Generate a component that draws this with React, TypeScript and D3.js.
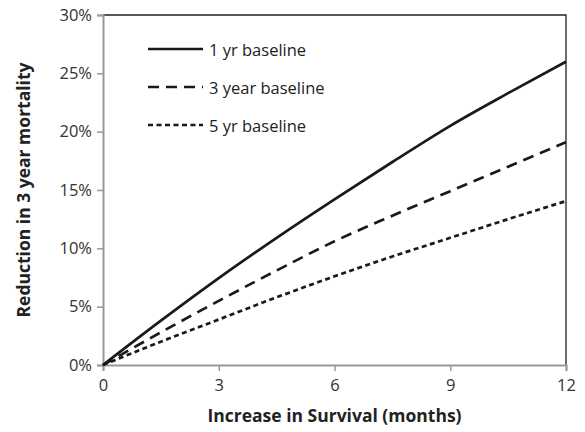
import React, { useEffect, useRef } from 'react';
import * as d3 from 'd3';

const months = [0, 1.5, 3, 4.5, 6, 7.5, 9, 10.5, 12];
const oneYear = [0, 3.8, 7.45, 10.9, 14.2, 17.4, 20.5, 23.3, 26.0];
const threeYear = [0, 2.8, 5.5, 8.1, 10.6, 12.8, 14.9, 17.0, 19.1];
const fiveYear = [0, 2.0, 3.9, 5.8, 7.6, 9.3, 10.9, 12.5, 14.05];
const seriesNames = ['1 yr baseline', '3 year baseline', '5 yr baseline'];
const xTicks = [0, 3, 6, 9, 12];
const yTicks = [0, 5, 10, 15, 20, 25, 30];

export default function App() {
    const ref = useRef<SVGSVGElement>(null);
    const width = 585;
    const height = 432;
    const margin = { left: 103, right: 19, top: 15, bottom: 67 };

    useEffect(() => {
        const svg = d3.select(ref.current);
        svg.selectAll('*').remove();
        const font = "Open Sans, Liberation Sans, sans-serif";

        const x = d3.scaleLinear().domain([0, 12]).range([margin.left, width - margin.right]);
        const y = d3.scaleLinear().domain([0, 30]).range([height - margin.bottom, margin.top]);

        svg.append('rect')
            .attr('width', width).attr('height', height).attr('fill', 'white');

        // frame: top and right dark
        svg.append('path')
            .attr('d', `M${x(0)} ${y(30)} H${x(12)} V${y(0)}`)
            .attr('fill', 'none')
            .attr('stroke', '#222')
            .attr('stroke-width', 1.3);

        const xAxis = svg.append('g')
            .attr('transform', `translate(0,${y(0)})`)
            .call(d3.axisBottom(x).tickValues(xTicks).tickSize(6).tickPadding(8).tickFormat(d3.format('d')));
        const yAxis = svg.append('g')
            .attr('transform', `translate(${x(0)},0)`)
            .call(d3.axisLeft(y).tickValues(yTicks).tickSize(6).tickPadding(5).tickFormat(d => `${d}%`));

        [xAxis, yAxis].forEach(ax => {
            ax.select('.domain').attr('stroke', '#999').attr('stroke-width', 2);
            ax.selectAll('.tick line').attr('stroke', '#999').attr('stroke-width', 1.5);
            ax.selectAll('.tick text')
                .attr('fill', '#333')
                .style('font-family', font)
                .style('font-size', '16.5px');
        });

        const line = d3.line<number>()
            .x((_, i) => x(months[i]))
            .y(d => y(d))
            .curve(d3.curveMonotoneX);

        const dashes = [null, '11,7', '5,3.5'];
        [oneYear, threeYear, fiveYear].forEach((vals, i) => {
            svg.append('path')
                .attr('d', line(vals))
                .attr('fill', 'none')
                .attr('stroke', '#1a1a1a')
                .attr('stroke-width', 2.7)
                .attr('stroke-dasharray', dashes[i]);
        });

        // legend
        const legendY = [49, 87, 125];
        seriesNames.forEach((name, i) => {
            svg.append('line')
                .attr('x1', 148).attr('x2', 203)
                .attr('y1', legendY[i]).attr('y2', legendY[i])
                .attr('stroke', '#1a1a1a')
                .attr('stroke-width', 2.7)
                .attr('stroke-dasharray', dashes[i]);
            svg.append('text')
                .attr('x', 209)
                .attr('y', legendY[i])
                .attr('dominant-baseline', 'central')
                .attr('fill', '#222')
                .style('font-family', font)
                .style('font-size', '16.5px')
                .text(name);
        });

        svg.append('text')
            .attr('x', (x(0) + x(12)) / 2)
            .attr('y', 422)
            .attr('text-anchor', 'middle')
            .attr('fill', '#222')
            .style('font-family', font)
            .style('font-size', '17.5px')
            .style('font-weight', 'bold')
            .text('Increase in Survival (months)');

        svg.append('text')
            .attr('transform', `translate(30,${(y(0) + y(30)) / 2}) rotate(-90)`)
            .attr('text-anchor', 'middle')
            .attr('fill', '#222')
            .style('font-family', font)
            .style('font-size', '17.5px')
            .style('font-weight', 'bold')
            .text('Reduction in 3 year mortality');
    }, []);

    return <svg ref={ref} width={width} height={height} style={{ position: 'absolute', left: 0, top: 0 }}></svg>;
}
